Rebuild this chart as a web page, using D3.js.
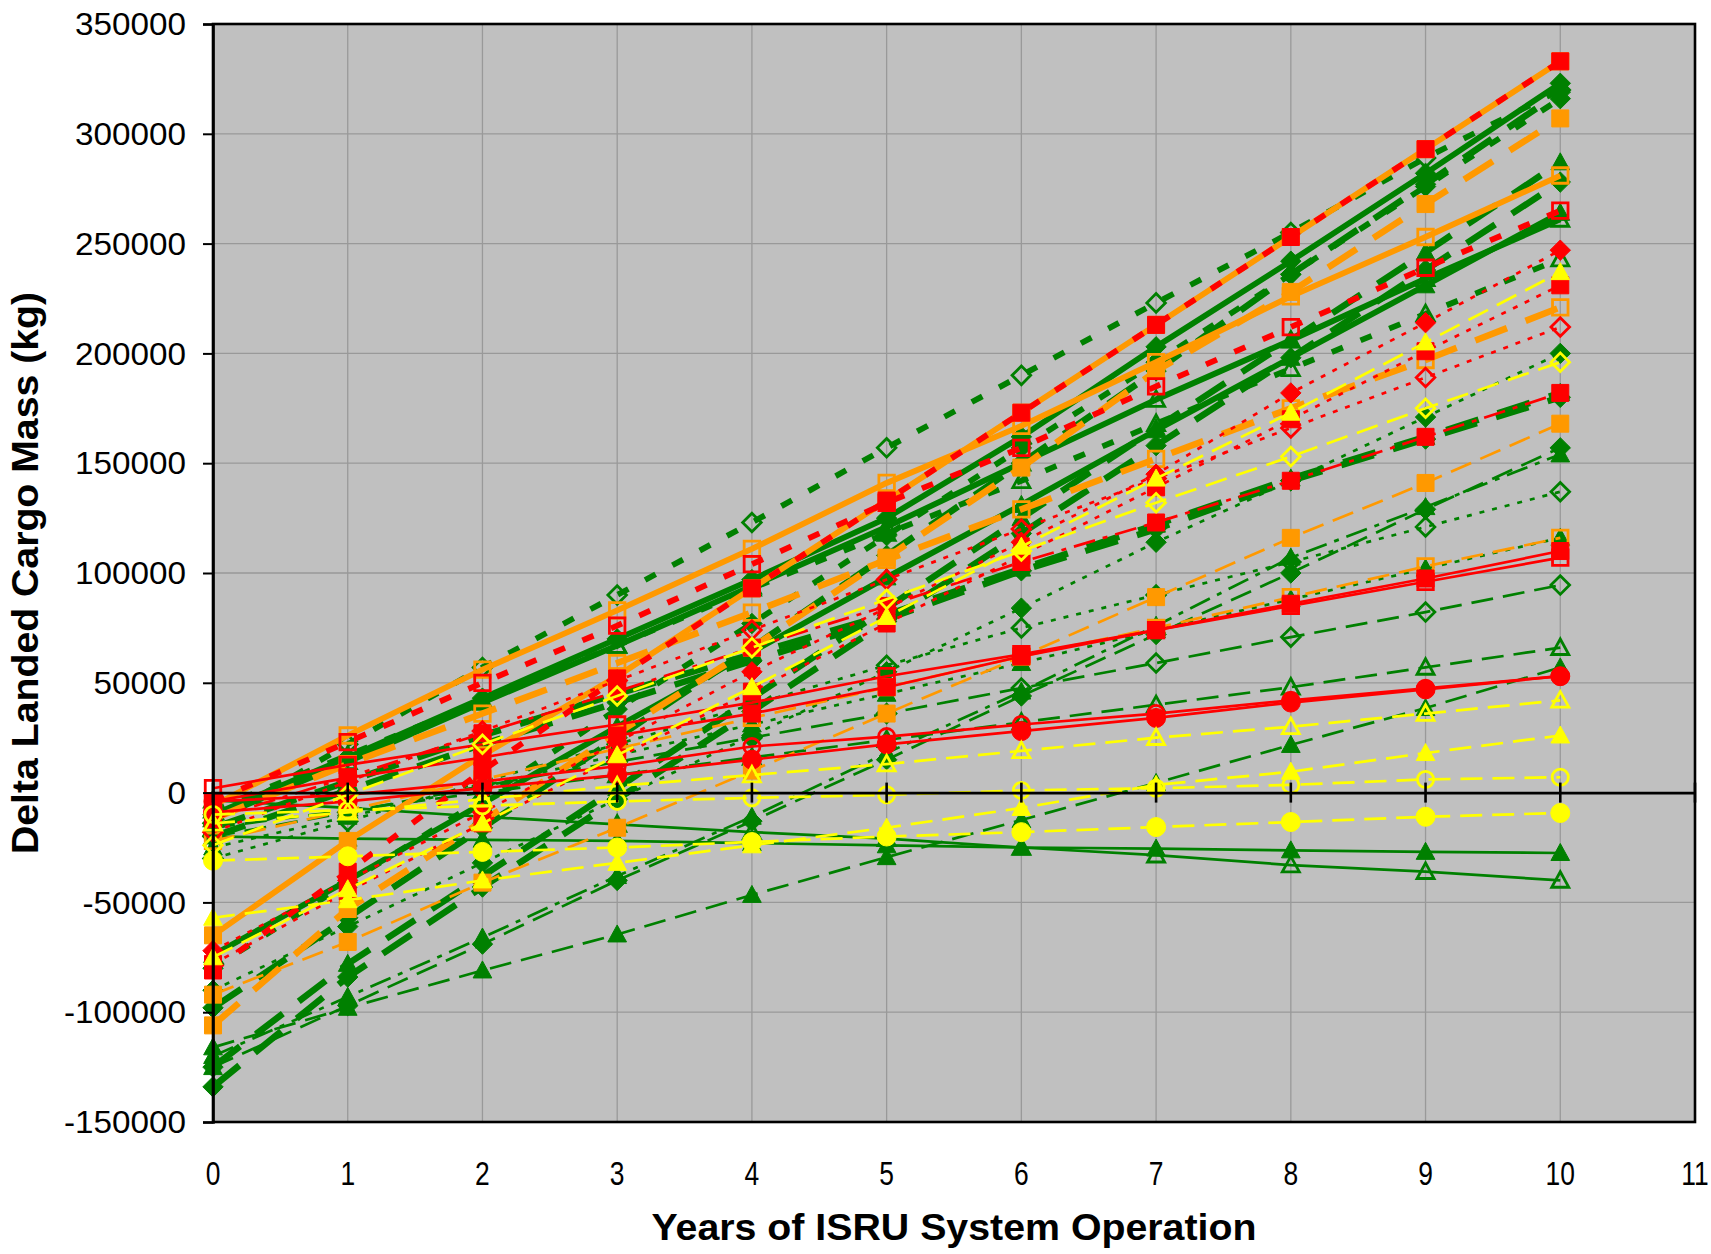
<!DOCTYPE html>
<html>
<head>
<meta charset="utf-8">
<script src="https://cdn.jsdelivr.net/npm/d3@7"></script>
<style>
  body { margin: 0; background: #ffffff; }
  svg { display: block; }
  text { font-family: Arial, "Liberation Sans", sans-serif; fill: #000; }
</style>
</head>
<body>
<svg id="chart" width="1711" height="1254"></svg>
<script>
// ---- data -------------------------------------------------------------
const years = [0, 1, 2, 3, 4, 5, 6, 7, 8, 9, 10];
const xTickValues = [0, 1, 2, 3, 4, 5, 6, 7, 8, 9, 10, 11];
const yTickValues = [-150000, -100000, -50000, 0, 50000, 100000, 150000, 200000, 250000, 300000, 350000];
const yTickLabels = ["-150000", "-100000", "-50000", "0", "50000", "100000", "150000", "200000", "250000", "300000", "350000"];

// Delta landed cargo mass (kg) per year of operation, one array per case
const g19 = [-20000, -21000, -21500, -22000, -23000, -24000, -25000, -25500, -26300, -27000, -27500];
const g20 = [-3500, -7000, -11000, -14500, -18000, -21000, -25000, -28500, -33000, -36000, -40000];
const g18 = [-116000, -98000, -81000, -64600, -46600, -29400, -12500, 4400, 21700, 38500, 57000];
const g17 = [-16000, -8000, 0, 8000, 16000, 24000, 32000, 40000, 48000, 57000, 66000];
const g16 = [-20000, -9000, 3000, 14000, 25000, 36000, 47600, 59000, 70800, 82200, 94500];
const g15 = [-25000, -11000, 3000, 17000, 31000, 45000, 59000, 74000, 88000, 102000, 116000];
const g14 = [-30000, -13000, 5000, 22000, 40000, 58000, 75000, 90000, 105000, 121000, 137000];
const g13 = [-120000, -93000, -66000, -38000, -11000, 18000, 46000, 76000, 107000, 130000, 154000];
const g12 = [-125000, -97000, -69000, -40000, -13000, 15000, 44000, 72000, 100000, 129000, 157000];
const g11 = [-20000, 1000, 22000, 41000, 60000, 79000, 101000, 120000, 142000, 161000, 180000];
const g10 = [-16000, 5000, 26000, 45000, 63000, 81000, 102000, 122000, 143000, 162000, 182000];
const g9  = [-90000, -61000, -32000, -3000, 26000, 55000, 84000, 114000, 142000, 171000, 200000];
const g8  = [-8000, 17000, 42000, 67000, 93000, 118000, 142000, 168000, 193000, 218000, 243000];
const g7  = [-12000, 14000, 41000, 67000, 94000, 121000, 150000, 179000, 206000, 234000, 261000];
const g6  = [-134000, -84000, -43000, -3000, 37000, 78000, 118000, 158000, 198000, 238000, 278000];
const g21 = [-125000, -78000, -38000, 2000, 43000, 84000, 125000, 166000, 206000, 246000, 287000];
const g5  = [-74000, -40000, -5000, 30000, 64000, 98000, 131000, 165000, 198000, 231000, 264000];
const g4  = [-14000, 22000, 57000, 90000, 123000, 157000, 190000, 223000, 255000, 289000, 320000];
const g3  = [-80000, -41000, -3000, 38000, 77000, 117000, 157000, 196000, 236000, 276000, 316000];
const g2  = [-98000, -57000, -16000, 25000, 66000, 108000, 150000, 192000, 236000, 277000, 319000];
const g1  = [-10000, 16000, 43000, 70000, 97000, 125000, 162000, 203000, 242000, 282000, 323000];

const o6 = [-22000, -8000, 6000, 20000, 34000, 48000, 62000, 75000, 89000, 103000, 116000];
const o5 = [-92000, -68000, -41000, -16000, 10000, 36000, 62000, 89000, 116000, 141000, 168000];
const o4 = [-12000, 13000, 36000, 59000, 82000, 106000, 129000, 152000, 175000, 197000, 221000];
const o3 = [-6000, 26000, 56000, 83000, 111000, 141000, 167000, 196000, 226000, 253000, 281000];
const o2 = [-106000, -53000, -13000, 27000, 66000, 107000, 148000, 192000, 228000, 268000, 307000];
const o1 = [-65000, -22000, 17000, 53000, 93000, 133000, 173000, 213000, 253000, 293000, 333000];

const r10 = [-9000, -4000, 2000, 8000, 15000, 22000, 28000, 34000, 41000, 47000, 53000];
const r9  = [-4000, -1000, 5000, 12000, 21000, 25500, 31000, 36000, 42000, 47500, 53000];
const r8  = [-4000, 6700, 16000, 26000, 36000, 48000, 62000, 74000, 86000, 97500, 110000];
const r7  = [2000, 12600, 22000, 31000, 41000, 53000, 63000, 74000, 85000, 96000, 107000];
const r6  = [-12000, 7000, 27000, 46000, 66000, 85000, 105000, 123000, 142000, 162000, 182000];
const r5  = [-18000, 5000, 28000, 51000, 74000, 97000, 120000, 143000, 166000, 189000, 212000];
const r4  = [-78000, -45000, -14000, 16000, 46000, 77000, 108000, 139000, 170000, 201000, 231000];
const r3  = [-72000, -40000, -9000, 23000, 55000, 84000, 114000, 145000, 182000, 214000, 247000];
const r2  = [-4000, 23000, 50000, 76000, 104000, 132000, 157000, 185000, 212000, 239000, 265000];
const r1  = [-81000, -36000, 10000, 52000, 93000, 133000, 173000, 213000, 253000, 293000, 333000];

const y6 = [-31000, -29000, -27000, -25000, -22500, -20000, -18000, -15700, -13400, -11000, -9300];
const y5 = [-10000, -8000, -6000, -4000, -2400, -1000, 1000, 2000, 3500, 6000, 7000];
const y4 = [-57000, -49000, -40000, -32000, -24000, -16000, -7000, 3500, 9500, 18000, 26000];
const y3 = [-14000, -9000, -3000, 3000, 8000, 13000, 19000, 25000, 30000, 36000, 42000];
const y2 = [-24000, -1000, 22000, 44000, 66000, 88000, 110000, 132000, 153000, 175000, 196000];
const y1 = [-75000, -44000, -14000, 17000, 48000, 80000, 112000, 143000, 173000, 205000, 237000];

// ---- appearance ---------------------------------------------------------
const palette = { green: "#008000", orange: "#FF9900", red: "#FF0000", yellow: "#FFFF00" };
const lineStyles = {
  sT:  { width: 5.8, dash: null },           // thick solid
  sN:  { width: 2.7, dash: null },           // thin solid
  dTL: { width: 6.5, dash: "34,20" },        // thick long dash
  dTS: { width: 5.8, dash: "12,19" },        // thick short dash
  dN:  { width: 2.7, dash: "22,10" },        // thin dash
  oN:  { width: 2.7, dash: "5,8" },          // thin dots
  ddN: { width: 2.7, dash: "22,8,5,8" }      // thin dash-dot
};

// series table: [values, colour, line style, marker, filled]
const seriesTable = [
  [g19, "green", "sN",  "triangle", true],
  [g20, "green", "sN",  "triangle", false],
  [g18, "green", "dN",  "triangle", true],
  [g17, "green", "dN",  "triangle", false],
  [g16, "green", "dN",  "diamond",  false],
  [g15, "green", "oN",  "triangle", true],
  [g14, "green", "oN",  "diamond",  false],
  [g13, "green", "ddN", "triangle", true],
  [g12, "green", "dN",  "diamond",  true],
  [g11, "green", "dTL", "diamond",  true],
  [g10, "green", "dTL", "triangle", true],
  [g9,  "green", "oN",  "diamond",  true],
  [g8,  "green", "dTS", "triangle", false],
  [g5,  "green", "sT",  "triangle", true],
  [g7,  "green", "sT",  "triangle", false],
  [g6,  "green", "dTL", "diamond",  true],
  [g21, "green", "dTL", "triangle", true],
  [g4,  "green", "dTS", "diamond",  false],
  [g3,  "green", "dTS", "diamond",  true],
  [g2,  "green", "dTL", "diamond",  true],
  [g1,  "green", "sT",  "diamond",  true],
  [o6,  "orange", "dN",  "square", false],
  [o5,  "orange", "dN",  "square", true],
  [o4,  "orange", "dTL", "square", false],
  [o3,  "orange", "sT",  "square", false],
  [o2,  "orange", "dTL", "square", true],
  [o1,  "orange", "sT",  "square", true],
  [r10, "red", "sN",  "circle",  true],
  [r9,  "red", "sN",  "circle",  false],
  [r8,  "red", "sN",  "square",  true],
  [r7,  "red", "sN",  "square",  false],
  [r6,  "red", "ddN", "square",  true],
  [r5,  "red", "oN",  "diamond", false],
  [r4,  "red", "oN",  "square",  true],
  [r3,  "red", "oN",  "diamond", true],
  [r2,  "red", "dTS", "square",  false],
  [r1,  "red", "dTS", "square",  true],
  [y6,  "yellow", "dN", "circle",   true],
  [y5,  "yellow", "dN", "circle",   false],
  [y4,  "yellow", "dN", "triangle", true],
  [y3,  "yellow", "dN", "triangle", false],
  [y2,  "yellow", "dN", "diamond",  false],
  [y1,  "yellow", "dN", "triangle", true]
];

// ---- layout -----------------------------------------------------------
const svg = d3.select("#chart");
const plot = { left: 213, right: 1695, top: 24, bottom: 1122 };

const x = d3.scaleLinear().domain([0, 11]).range([plot.left, plot.right]);
const y = d3.scaleLinear().domain([-150000, 350000]).range([plot.bottom, plot.top]);

// plot background
svg.append("rect")
  .attr("x", plot.left).attr("y", plot.top)
  .attr("width", plot.right - plot.left).attr("height", plot.bottom - plot.top)
  .attr("fill", "#C0C0C0");

// gridlines
const grid = svg.append("g").attr("stroke", "#999999").attr("stroke-width", 1.3);
grid.selectAll("line.h").data(yTickValues.slice(1, -1)).join("line")
  .attr("x1", plot.left).attr("x2", plot.right)
  .attr("y1", d => y(d)).attr("y2", d => y(d));
grid.selectAll("line.v").data(xTickValues.slice(1, -1)).join("line")
  .attr("y1", plot.top).attr("y2", plot.bottom)
  .attr("x1", d => x(d)).attr("x2", d => x(d));

// ---- series -----------------------------------------------------------
const line = d3.line().x((d, i) => x(years[i])).y(d => y(d));

function markerPath(kind, s) {
  const h = s / 2;
  if (kind === "square") return `M${-h},${-h}h${s}v${s}h${-s}Z`;
  if (kind === "diamond") { const r = s * 0.6; return `M0,${-r}L${r},0L0,${r}L${-r},0Z`; }
  if (kind === "triangle") { const a = s * 0.55; return `M0,${-s * 0.56}L${a},${s * 0.44}L${-a},${s * 0.44}Z`; }
  return "";
}

const seriesLayer = svg.append("g");
seriesTable.forEach(([vals, colorKey, styleKey, marker, filled]) => {
  const col = palette[colorKey];
  const st = lineStyles[styleKey];
  const g = seriesLayer.append("g");
  g.append("path")
    .attr("d", line(vals))
    .attr("fill", "none")
    .attr("stroke", col)
    .attr("stroke-width", st.width)
    .attr("stroke-dasharray", st.dash)
    .attr("stroke-linejoin", "round")
    .attr("stroke-linecap", "butt");

  const size = marker === "circle" ? 19 : 17;
  const pts = g.selectAll("g.m").data(vals).join("g")
    .attr("transform", (d, i) => `translate(${x(years[i])},${y(d)})`);
  const fill = filled ? col : "none";
  const sw = filled ? 1 : 2.8;
  if (marker === "circle") {
    pts.append("circle").attr("r", filled ? size / 2 : size / 2 - 1.4)
      .attr("fill", fill).attr("stroke", col).attr("stroke-width", sw);
  } else {
    pts.append("path").attr("d", markerPath(marker, filled ? size : size - 1.5))
      .attr("fill", fill).attr("stroke", col).attr("stroke-width", sw)
      .attr("stroke-linejoin", "miter");
  }
});

// ---- axes -------------------------------------------------------------
// plot border
svg.append("rect")
  .attr("x", plot.left).attr("y", plot.top)
  .attr("width", plot.right - plot.left).attr("height", plot.bottom - plot.top)
  .attr("fill", "none").attr("stroke", "#000").attr("stroke-width", 2.6);

// horizontal axis drawn along zero, with crossing tick marks
const xAxis = svg.append("g").attr("transform", `translate(0,${y(0)})`)
  .call(d3.axisBottom(x).tickValues(xTickValues).tickSize(0).tickFormat(""));
xAxis.select(".domain").attr("stroke", "#000").attr("stroke-width", 2.6);
xAxis.selectAll("line.cross").data(xTickValues).join("line")
  .attr("class", "cross")
  .attr("x1", d => x(d)).attr("x2", d => x(d))
  .attr("y1", -10).attr("y2", 10)
  .attr("stroke", "#000").attr("stroke-width", 2.6);

// x tick labels along the bottom of the plot
svg.append("g").selectAll("text").data(xTickValues).join("text")
  .attr("transform", d => `translate(${x(d)},1185) scale(0.8,1)`)
  .attr("text-anchor", "middle")
  .attr("font-size", 33)
  .text(d => String(d));

// vertical axis
const yAxis = svg.append("g").attr("transform", `translate(${plot.left},0)`)
  .call(d3.axisLeft(y).tickValues(yTickValues).tickSize(10).tickFormat(""));
yAxis.select(".domain").attr("stroke", "#000").attr("stroke-width", 2.6);
yAxis.selectAll(".tick line").attr("stroke", "#000").attr("stroke-width", 2);

svg.append("g").selectAll("text").data(yTickValues).join("text")
  .attr("transform", d => `translate(186,${y(d)}) scale(1.04,1)`)
  .attr("text-anchor", "end")
  .attr("dominant-baseline", "central")
  .attr("font-size", 32)
  .text((d, i) => yTickLabels[i]);

// axis titles
svg.append("text")
  .attr("x", 954).attr("y", 1240)
  .attr("text-anchor", "middle")
  .attr("font-size", 37).attr("font-weight", "bold")
  .attr("textLength", 605).attr("lengthAdjust", "spacingAndGlyphs")
  .text("Years of ISRU System Operation");

svg.append("text")
  .attr("transform", "translate(38,573) rotate(-90)")
  .attr("text-anchor", "middle")
  .attr("font-size", 36).attr("font-weight", "bold")
  .attr("textLength", 562).attr("lengthAdjust", "spacingAndGlyphs")
  .text("Delta Landed Cargo Mass (kg)");
</script>
</body>
</html>
